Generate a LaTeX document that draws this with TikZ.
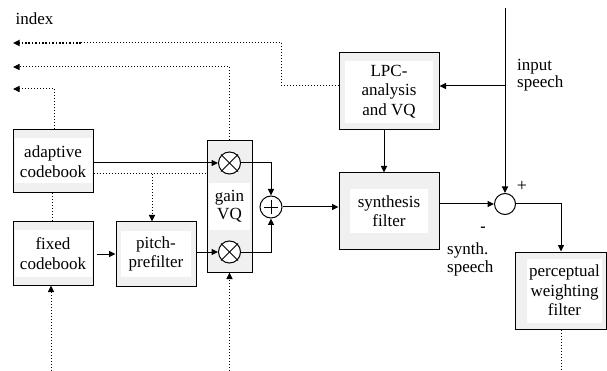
\documentclass[tikz,border=0pt]{standalone}
\usepackage{fontspec}
\setmainfont{Liberation Serif}
\usetikzlibrary{arrows.meta,calc}
\definecolor{boxgray}{RGB}{240,240,240}
\tikzset{
  blk/.style args={#1/#2/#3/#4/#5/#6}{draw, fill=boxgray, line width=1pt,
    minimum width=#1pt, minimum height=#2pt, inner sep=0pt, align=center,
    font=\fontsize{17}{19.5}\selectfont,
    path picture={\fill[white] ([shift={(#3pt,#6pt)}]path picture bounding box.south west)
       rectangle ([shift={(-#5pt,-#4pt)}]path picture bounding box.north east);}},
  mult/.style={circle, draw, fill=white, line width=1pt, minimum size=22pt, inner sep=0pt},
  arr/.style={line width=1pt, -{Triangle[length=6.5pt,width=6pt]}},
  dot/.style={line width=1pt, dash pattern=on 1pt off 2pt},
  dotarr/.style={dot, -{Triangle[length=6.5pt,width=6pt]}},
  thickdotarr/.style={line width=1.6pt, dash pattern=on 1.6pt off 1.8pt, -{Triangle[length=6.5pt,width=6pt]}},
  lbl/.style={font=\fontsize{17}{17.5}\selectfont, inner sep=0pt, align=left},
}
\begin{document}
\begin{tikzpicture}[x=1pt,y=-1pt]
\useasboundingbox (0,0) rectangle (607,371);
% blocks
\node[blk=80/63/1.5/8.5/1.5/9.5] (adapt) at (53,161.5) {adaptive\\codebook};
\node[blk=80/63/1.5/8.5/1.5/8.5] (fixed) at (53,253.5) {fixed\\codebook};
\node[blk=80/64/5/9/5/9] (pitch) at (156,254) {pitch-\\prefilter};
\node[blk=45/131/2/42/2/42, font=\fontsize{17}{17.5}\selectfont] (gain) at (229.5,206.5) {gain\\VQ};
\node[blk=100/77/6/8/6/7] (lpc) at (389,91.5) {LPC-\\analysis\\and VQ};
\node[blk=100/76/11/16/11/16] (synth) at (389,211) {synthesis\\filter};
\node[blk=91/77/12/7/4/6] (percep) at (560.5,290.5) {\hspace*{8pt}perceptual\\\hspace*{8pt}weighting\\\hspace*{8pt}filter};
% multipliers and adders
\node[mult] (m1) at (229.5,163) {};
\node[mult] (m2) at (229.5,252) {};
\foreach \m in {m1,m2}{
  \draw[line width=0.8pt] ([shift={(8.5pt,8.5pt)}]\m.center) -- ([shift={(-8.5pt,-8.5pt)}]\m.center);
  \draw[line width=0.8pt] ([shift={(-8.5pt,8.5pt)}]\m.center) -- ([shift={(8.5pt,-8.5pt)}]\m.center);
}
\node[mult] (sum) at (271,207) {};
\draw[line width=0.8pt] ([xshift=-7pt]sum.center) -- ([xshift=7pt]sum.center);
\draw[line width=0.8pt] ([yshift=-7pt]sum.center) -- ([yshift=7pt]sum.center);
\node[circle, draw, fill=white, line width=1pt, minimum size=21pt, inner sep=0pt] (diff) at (505,204) {};
% free ends
\coordinate (i1) at (13,43);
\coordinate (i1m) at (81,43);
\coordinate (i2) at (13,67);
\coordinate (i3) at (13,89);
\coordinate (in) at (505,8);
\coordinate (br) at (152,174);
\coordinate (f0) at (51,371);
\coordinate (g0) at (229.5,371);
\coordinate (p0) at (561,371);
% labels
\node[lbl, anchor=base west] (idx) at (15.5,25) {index};
\node[lbl, anchor=base west] (ins) at (517,88) {input\\speech};
\node[lbl, font=\fontsize{18}{18}\selectfont] (plus) at (522,186) {+};
\node[lbl, font=\fontsize{16}{17}\bfseries] (minus) at (483,229) {-};
\node[lbl, anchor=base west] (ss) at (447,272) {synth.\\speech};
% index lines
\draw[dot] ([yshift=5.5pt]lpc.west) -| (281,43) -- (i1m);
\draw[thickdotarr] (i1m) -- (i1);
\draw[dotarr] (gain.north) |- (i2);
\draw[dotarr] ([xshift=1pt]adapt.north) |- (i3);
% codebook signals
\draw[arr] (adapt.east |- m1.west) -- (m1.west);
\draw[dot] (adapt.east |- br) -- (gain.west |- br);
\draw[dotarr] (br) -- (br |- pitch.north);
\draw[dot] ([xshift=-1pt]adapt.south) -- ([xshift=-1pt]fixed.north);
\draw[arr] ([xshift=3pt]fixed.east |- pitch.west) -- (pitch.west);
\draw[arr] (pitch.east |- m2.west) -- (m2.west);
\draw[arr] (m1.east) -| (sum.north);
\draw[arr] (m2.east) -| (sum.south);
\draw[arr] (sum.east) -- (synth.west |- sum.east);
\draw[dotarr] (f0) -- (f0 |- fixed.south);
\draw[dotarr] (g0) -- (gain.south);
% LPC and input
\draw[arr] ([xshift=-5pt]lpc.south) -- ([xshift=-5pt]synth.north);
\draw[arr] (in) -- (diff.north);
\draw[arr] ([yshift=5.5pt]lpc.east -| in) -- ([yshift=5.5pt]lpc.east);
\draw[arr] (synth.east |- diff.west) -- (diff.west);
\draw[arr] (diff.east) -| ([xshift=0.5pt]percep.north);
\draw[dot] ([xshift=0.5pt]percep.south) -- (p0);
\end{tikzpicture}
\end{document}
